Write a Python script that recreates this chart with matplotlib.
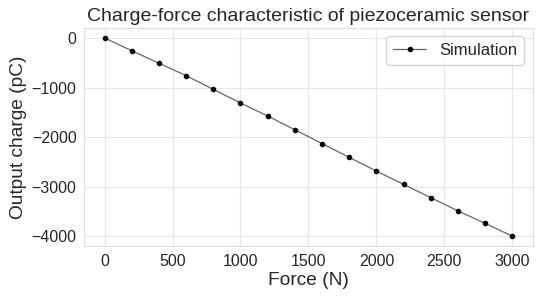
import matplotlib
matplotlib.use('Agg')
import matplotlib.pyplot as plt
import seaborn as sns
import numpy as np

# force steps (N) and simulated output charge (pC)
force = [0, 200, 400, 600, 800, 1000, 1200, 1400, 1600, 1800,
         2000, 2200, 2400, 2600, 2800, 3000]
charge = [0, -258, -510, -760, -1038, -1312, -1575, -1853, -2130, -2410,
          -2686, -2955, -3222, -3490, -3740, -4000]

sns.set_style('whitegrid')
plt.rcParams['font.family'] = ['Liberation Sans', 'DejaVu Sans']

fig = plt.figure(figsize=(5.36, 2.98), dpi=100)
ax = fig.add_axes([0.157, 0.174, 0.837, 0.732])

ax.plot(force, charge, '-', color='#666666', linewidth=0.9,
        marker='o', markersize=3.0, markerfacecolor='black',
        markeredgecolor='black', label='Simulation')

ax.set_xticks([0, 500, 1000, 1500, 2000, 2500, 3000])
ax.set_yticks([0, -1000, -2000, -3000, -4000])
ax.tick_params(labelsize=11.5, colors='#262626', pad=2)
ax.set_xlabel('Force (N)', fontsize=13.8, color='#262626', labelpad=2)
ax.set_ylabel('Output charge (pC)', fontsize=13.8, color='#262626', labelpad=3)
ax.set_title('Charge-force characteristic of piezoceramic sensor',
             fontsize=14, color='#262626', pad=5)
for s in ax.spines.values():
    s.set_color('#dddddd')
ax.grid(color='#e6e6e6')
ax.legend(loc='upper right', fontsize=12, frameon=True)

fig.savefig('out.png', dpi=100)
